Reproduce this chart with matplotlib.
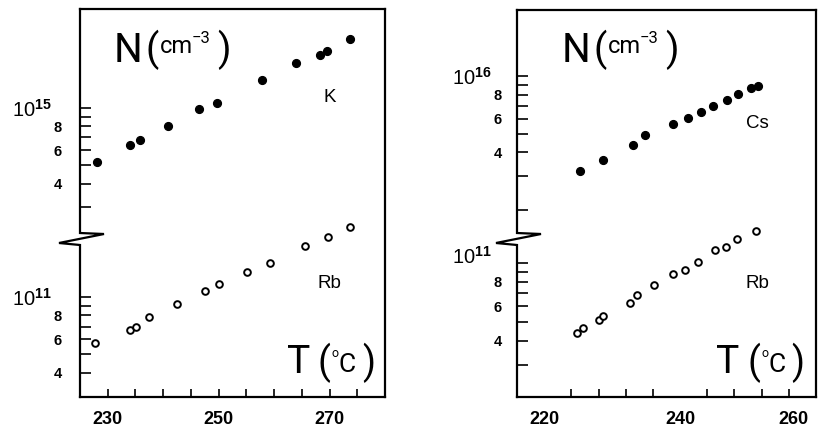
import matplotlib
matplotlib.use("Agg")
import matplotlib.pyplot as plt
from matplotlib.ticker import FixedLocator, FixedFormatter
from matplotlib.transforms import ScaledTranslation
from matplotlib.lines import Line2D

plt.rcParams['font.family'] = ['Liberation Sans', 'DejaVu Sans']
plt.rcParams['mathtext.fontset'] = 'custom'
plt.rcParams['mathtext.rm'] = 'Liberation Sans'
plt.rcParams['mathtext.bf'] = 'Liberation Sans:bold'
plt.rcParams['mathtext.default'] = 'regular'

W, H = 819, 430

# ---------------- data ----------------
# left panel: K (filled, upper scale) and Rb (open, lower scale)
k_temp = [228.0, 234.0, 235.9, 240.9, 246.5, 249.7, 257.8, 264.0, 268.3, 269.5, 273.6]
k_density = [5.2e14, 6.4e14, 6.8e14, 8.0e14, 9.9e14, 1.06e15, 1.40e15, 1.72e15,
             1.90e15, 1.99e15, 2.30e15]
rb_k_temp = [227.7, 234.0, 235.1, 237.4, 242.5, 247.6, 250.1, 255.1, 259.2, 265.5,
             269.7, 273.7]
rb_k_density = [5.75e10, 6.7e10, 6.98e10, 7.88e10, 9.19e10, 1.075e11, 1.17e11, 1.36e11,
                1.52e11, 1.86e11, 2.08e11, 2.34e11]

# right panel: Cs (filled, upper scale) and Rb (open, lower scale)
cs_temp = [225.2, 228.6, 233.0, 234.9, 238.9, 241.1, 243.1, 244.8, 246.9, 248.5,
           250.5, 251.5]
cs_density = [3.21e15, 3.65e15, 4.37e15, 4.93e15, 5.62e15, 6.02e15, 6.47e15, 7.00e15,
              7.50e15, 8.03e15, 8.63e15, 8.90e15]
rb_cs_temp = [224.8, 225.7, 228.1, 228.7, 232.7, 233.6, 236.2, 238.9, 240.7, 242.7,
              245.1, 246.8, 248.4, 251.2]
rb_cs_density = [4.36e10, 4.63e10, 5.10e10, 5.35e10, 6.21e10, 6.83e10, 7.71e10, 8.78e10,
                 9.21e10, 1.01e11, 1.166e11, 1.212e11, 1.323e11, 1.465e11]

# tick labels
left_xticks = [230, 250, 270]
left_xlabels = ["230", "250", "270"]
right_xticks = [220, 240, 260]
right_xlabels = ["220", "240", "260"]
minor_mantissa_labels = {4: "4", 6: "6", 8: "8"}

fig = plt.figure(figsize=(W / 100, H / 100), dpi=100)
fig.patch.set_facecolor('white')

THIN = dict(family=['Roboto', 'DejaVu Sans'], fontweight='normal', color='black')


def ptext(x, y, s, size, **kw):
    opts = dict(THIN)
    opts.update(kw)
    fig.text(x / W, 1 - y / H, s, fontsize=size, ha='left', va='baseline', **opts)


def set_log_ticks(axis, decade, mantissas, major_label):
    axis.set_major_locator(FixedLocator([decade]))
    axis.set_major_formatter(FixedFormatter([major_label]))
    axis.set_minor_locator(FixedLocator([m * decade / 10 for m in mantissas]))
    axis.set_minor_formatter(FixedFormatter([minor_mantissa_labels.get(m, "") for m in mantissas]))


def make_panel(x0, x1, ytop, ybot, xlim, xminor, xticks, xlabels,
               lo_lim, hi_lim, lo_dec, hi_dec, lo_mant, hi_mant,
               lo_sup, hi_sup, upper_T, upper_N, lower_T, lower_N,
               major_pad, minor_pad, brk_top, brk_bot):
    rect = [x0 / W, 1 - ybot / H, (x1 - x0) / W, (ybot - ytop) / H]
    ax = fig.add_axes(rect)
    ax2 = ax.twinx()
    for a in (ax, ax2):
        a.set_yscale('log')
        a.set_facecolor('none')
    ax.set_xlim(*xlim)
    ax.set_ylim(*lo_lim)
    ax2.set_ylim(*hi_lim)

    # spines
    for s in ax2.spines.values():
        s.set_visible(False)
    ax.spines['left'].set_visible(False)
    for k in ('top', 'right', 'bottom'):
        ax.spines[k].set_linewidth(1.6)

    # custom broken left spine
    def fx(px):
        return (px - x0) / (x1 - x0)

    def fy(py):
        return (ybot - py) / (ybot - ytop)

    xs = [x0, x0, x0 + 24, x0 - 21, x0, x0]
    ys = [ytop, brk_top, brk_top + 1, brk_top + 10, brk_bot, ybot]
    ax.add_line(Line2D([fx(v) for v in xs], [fy(v) for v in ys], transform=ax.transAxes,
                       color='black', lw=1.6, clip_on=False, solid_joinstyle='miter'))

    # y ticks
    ax2.yaxis.tick_left()
    set_log_ticks(ax.yaxis, lo_dec, lo_mant, r"$10^{\mathbf{%s}}$" % lo_sup)
    set_log_ticks(ax2.yaxis, hi_dec, hi_mant, r"$10^{\mathbf{%s}}$" % hi_sup)
    for a in (ax, ax2):
        a.tick_params(axis='y', which='both', direction='in', length=8, width=1.2,
                      left=True, right=False, labelleft=True, labelright=False)
        a.tick_params(axis='y', which='major', pad=major_pad, labelsize=14.5)
        a.tick_params(axis='y', which='minor', pad=minor_pad, labelsize=10.5)
        for lbl in a.yaxis.get_minorticklabels():
            lbl.set_fontweight('bold')

    # x ticks
    ax.xaxis.set_major_locator(FixedLocator(xticks))
    ax.xaxis.set_major_formatter(FixedFormatter(xlabels))
    ax.xaxis.set_minor_locator(FixedLocator(xminor))
    ax.tick_params(axis='x', which='both', direction='in', length=6, width=1.2,
                   top=False, pad=10, labelsize=13)
    for lbl in ax.xaxis.get_majorticklabels():
        lbl.set_fontweight('bold')

    # data
    ax2.plot(upper_T, upper_N, 'o', ms=5.6, color='black', mec='black')
    ax.plot(lower_T, lower_N, 'o', ms=4.8, mfc='white', mec='black', mew=1.4)
    return ax, ax2


# ---------------- left panel ----------------
axL, axL2 = make_panel(80, 385, 9, 397, (225, 280), [235, 240, 245, 255, 260, 265, 275],
                       left_xticks, left_xlabels,
                       (2.98e10, 3.28e12), (3.01e13, 3.32e15), 1e11, 1e15,
                       [4, 5, 6, 7, 8, 9], [3, 4, 5, 6, 7, 8, 9], "11", "15",
                       k_temp, k_density, rb_k_temp, rb_k_density,
                       major_pad=20, minor_pad=13, brk_top=233, brk_bot=245)

# ---------------- right panel ----------------
axR, axR2 = make_panel(517, 816, 10, 397, (216, 260),
                       [224, 228, 232, 236, 244, 248, 252, 256],
                       right_xticks, right_xlabels,
                       (2.055e10, 1.98e12), (2.13e14, 2.207e16), 1e11, 1e16,
                       [3, 4, 5, 6, 7, 8, 9], [2, 3, 4, 5, 6, 7, 8, 9], "11", "16",
                       cs_temp, cs_density, rb_cs_temp, rb_cs_density,
                       major_pad=18, minor_pad=11, brk_top=233, brk_bot=245)
axR.tick_params(axis='x', which='major', length=0)
# positional quirks of the reference labels
lbl260 = axR.xaxis.get_majorticklabels()[-1]
lbl260.set_transform(lbl260.get_transform() + ScaledTranslation(-0.23, 0, fig.dpi_scale_trans))
lbl11 = axR.yaxis.get_majorticklabels()[0]
lbl11.set_transform(lbl11.get_transform() + ScaledTranslation(0, 0.08, fig.dpi_scale_trans))

# ---------------- axis titles inside panels ----------------
for dx in (0, 448):
    ptext(114 + dx, 62, "N", 29)
    ptext(145 + dx, 61, "(", 28)
    ptext(160 + dx, 53, "cm", 17)
    ptext(192 + dx, 43, "\u22123", 12)
    ptext(217 + dx, 61, ")", 28)

for dx in (0, 429):
    ptext(287 + dx, 373, "T", 28)
    ptext(318 + dx, 374, "(", 27)
    ptext(332 + dx, 357, "o", 9)
    ptext(339 + dx, 372, "C", 19)
    ptext(362 + dx, 374, ")", 27)

# species labels
for x, y, s in [(330, 98, "K"), (329, 284, "Rb"), (757, 124, "Cs"), (757, 284, "Rb")]:
    fig.text(x / W, 1 - y / H, s, fontsize=13.5, ha='center', va='center',
             family=['Liberation Sans', 'DejaVu Sans'])

fig.savefig("out.png", dpi=100, facecolor='white')
